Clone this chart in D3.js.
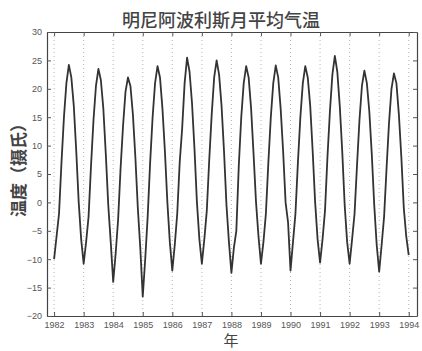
<!DOCTYPE html>
<html>
<head>
<meta charset="utf-8">
<script src="https://cdn.jsdelivr.net/npm/d3@7"></script>
<style>
  body { margin: 0; background: #fff; }
  svg { display: block; }
  .tick text { font-family: "Liberation Sans Narrow", "Liberation Sans", Arial, sans-serif; }
</style>
</head>
<body>
<div id="chart"></div>
<script>
// Years on the x axis, one row of monthly means (Jan..Dec) per year.
var years = [1982, 1983, 1984, 1985, 1986, 1987, 1988, 1989, 1990, 1991, 1992, 1993];
var temps = [
    [-10, -6, -2, 7, 15, 21, 24.2, 22, 17, 9, 0, -6.5],
    [-10.8, -7, -2.5, 6.5, 14.5, 20.5, 23.5, 21.5, 16.5, 8.5, -0.5, -7],
    [-14, -9, -3, 6, 13.5, 19.5, 22, 20.5, 15.5, 8, -1, -8],
    [-16.6, -10, -2.5, 7, 15, 21, 24, 22, 16.5, 9, 0, -7],
    [-12, -7.5, -2, 7, 13, 21, 25.5, 23, 17.5, 9.5, 0, -6.5],
    [-10.8, -6.5, -1.5, 7.5, 15.5, 22, 25, 22.5, 17, 9, -0.5, -7],
    [-12.4, -8, -5, 6.5, 15, 21, 24, 22, 16.5, 8.5, 0, -6],
    [-10.8, -7, -2, 7, 15, 21, 24.1, 22, 16.5, 9, 0, -3.5],
    [-12, -7, -2, 7, 15, 21, 24, 22, 17, 9, 0, -6.5],
    [-10.6, -6.5, -1.5, 8, 16, 22.5, 25.8, 23, 17, 9, -0.5, -7],
    [-10.8, -6.5, -2, 6.5, 14.5, 20.5, 23.2, 21, 16, 8.5, -0.5, -7.5],
    [-12.2, -7.5, -2.5, 6, 14, 20, 22.7, 21, 15.5, 8, -1, -6]
];
var lastValue = -9.3; // Jan 1994
var yTicks = [-20, -15, -10, -5, 0, 5, 10, 15, 20, 25, 30];
var xTicks = [1982, 1983, 1984, 1985, 1986, 1987, 1988, 1989, 1990, 1991, 1992, 1993, 1994];

var width = 422, height = 351;
var margin = {top: 32, right: 5, bottom: 35, left: 47};
var innerW = width - margin.left - margin.right;
var innerH = height - margin.top - margin.bottom;

// flatten to points
var points = [];
years.forEach(function(yr, i) {
    temps[i].forEach(function(v, m) {
        points.push({t: yr + m / 12, v: v});
    });
});
points.push({t: 1994, v: lastValue});

var x = d3.scaleLinear().domain([1981.76, 1994.28]).range([0, innerW]);
var y = d3.scaleLinear().domain([-20, 30]).range([innerH, 0]);

var svg = d3.select('#chart').append('svg')
    .attr('width', width)
    .attr('height', height);

var g = svg.append('g')
    .attr('transform', 'translate(' + margin.left + ',' + margin.top + ')');

// Dotted vertical grid at each year.
g.selectAll('.grid')
    .data(xTicks)
    .enter()
    .append('line')
    .attr('class', 'grid')
    .attr('x1', d => x(d))
    .attr('x2', d => x(d))
    .attr('y1', 0)
    .attr('y2', innerH)
    .attr('stroke', '#b5b5b5')
    .attr('stroke-width', 1)
    .attr('stroke-dasharray', '1,3');

// Axes (ticks inside, MATLAB style).
var bottomAxis = d3.axisBottom(x).tickValues(xTicks).tickFormat(d3.format('d')).tickSizeInner(-4).tickSizeOuter(0).tickPadding(6);
var topAxis = d3.axisTop(x).tickValues(xTicks).tickFormat('').tickSizeInner(-4).tickSizeOuter(0);
var leftAxis = d3.axisLeft(y).tickValues(yTicks).tickFormat(d3.format('d')).tickSizeInner(-4).tickSizeOuter(0).tickPadding(5);
var rightAxis = d3.axisRight(y).tickValues(yTicks).tickFormat('').tickSizeInner(-4).tickSizeOuter(0);

function styleAxis(sel, fs) {
    sel.selectAll('path').attr('stroke', '#444').attr('stroke-width', 1.2);
    sel.selectAll('line').attr('stroke', '#555');
    sel.selectAll('text').attr('font-size', fs).attr('fill', '#555');
}

g.append('g').attr('transform', 'translate(0,' + innerH + ')').call(bottomAxis).call(styleAxis, 9);
g.append('g').call(topAxis).call(styleAxis, 9);
g.append('g').call(leftAxis).call(styleAxis, 9);
g.append('g').attr('transform', 'translate(' + innerW + ',0)').call(rightAxis).call(styleAxis, 9);

// Temperature line.
var line = d3.line()
    .x(d => x(d.t))
    .y(d => y(d.v));

g.append('path')
    .datum(points)
    .attr('fill', 'none')
    .attr('stroke', '#333')
    .attr('stroke-width', 1.8)
    .attr('stroke-linejoin', 'round')
    .attr('d', line);

// Titles.
svg.append('text')
    .attr('x', 221)
    .attr('y', 27)
    .attr('text-anchor', 'middle')
    .attr('font-family', '"Noto Sans CJK SC", sans-serif')
    .attr('font-size', 18)
    .attr('font-weight', 500)
    .attr('fill', '#444')
    .text('明尼阿波利斯月平均气温');

svg.append('text')
    .attr('x', 231)
    .attr('y', 346)
    .attr('text-anchor', 'middle')
    .attr('font-family', '"Noto Sans CJK SC", sans-serif')
    .attr('font-size', 15)
    .attr('fill', '#444')
    .text('年');

svg.append('text')
    .attr('transform', 'translate(25,166) rotate(-90)')
    .attr('text-anchor', 'middle')
    .attr('font-family', '"Noto Sans CJK SC", sans-serif')
    .attr('font-size', 17)
    .attr('font-weight', 'bold')
    .attr('fill', '#444')
    .text('温度（摄氏）');
</script>
</body>
</html>
